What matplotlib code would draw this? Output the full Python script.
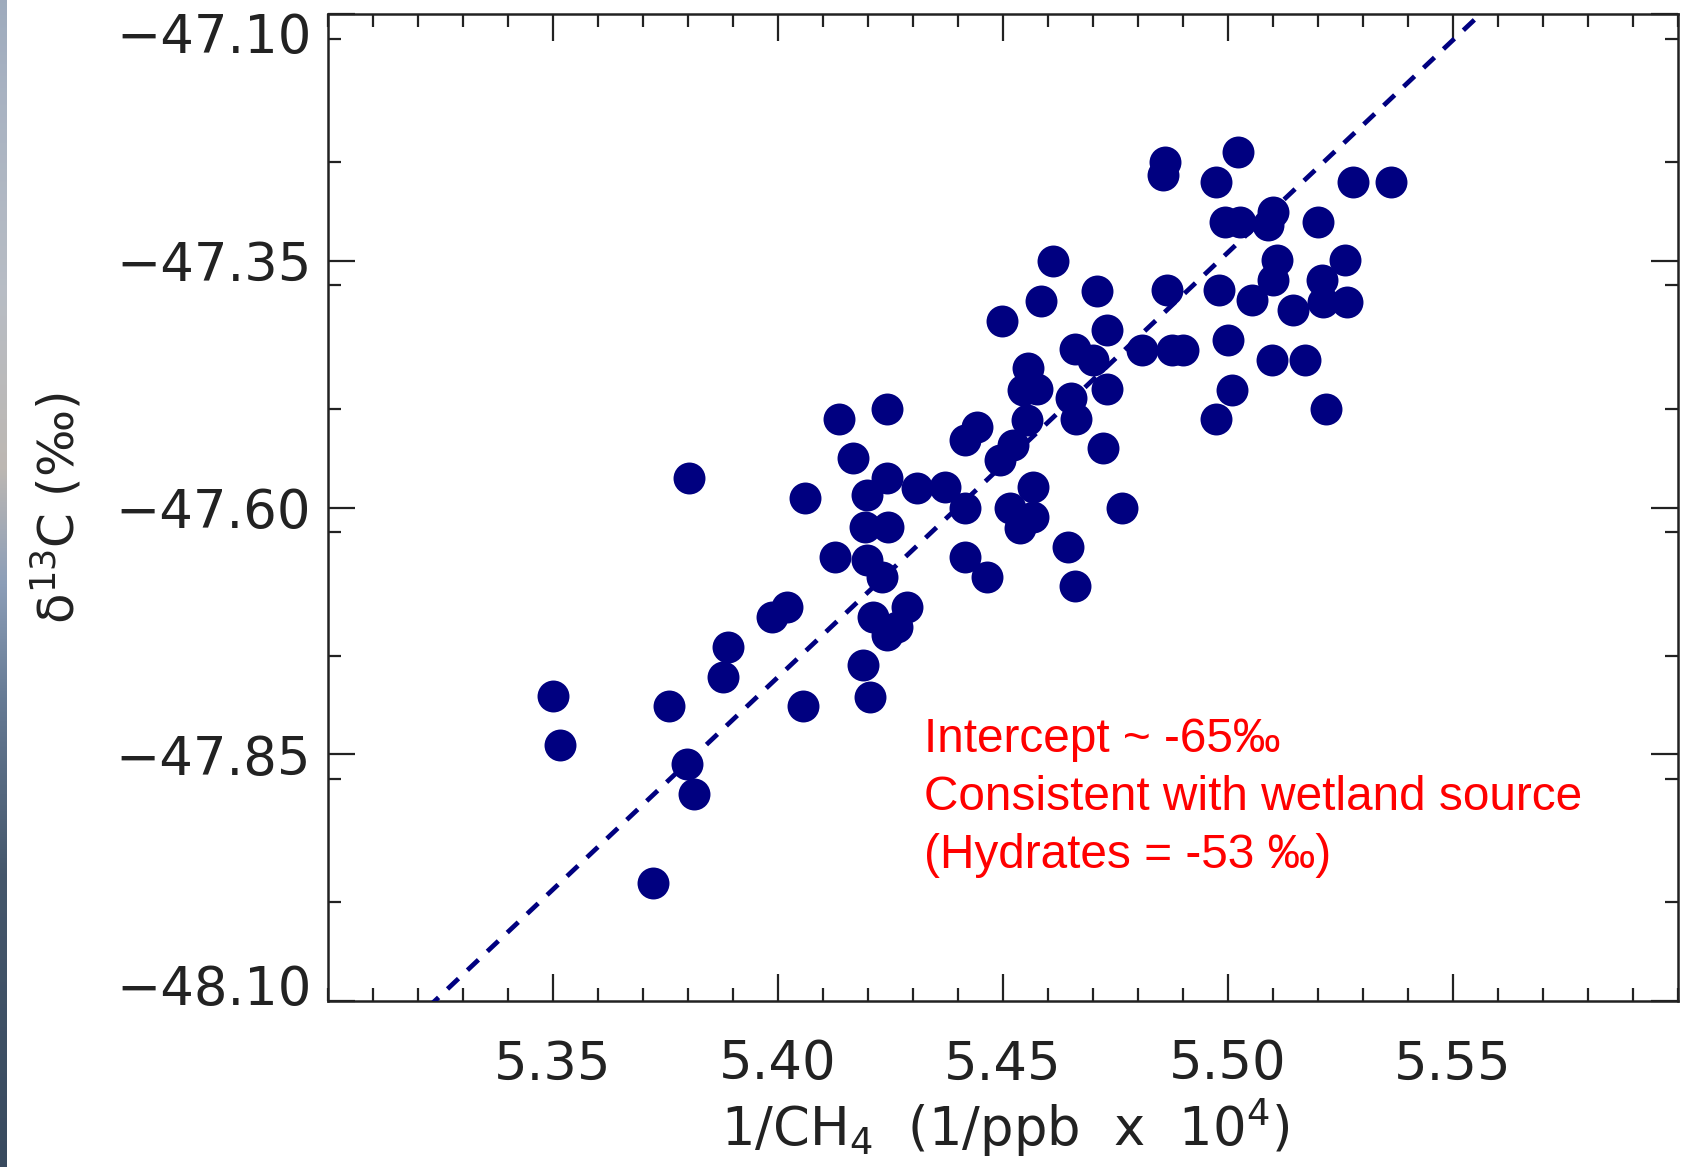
import numpy as np
import matplotlib
matplotlib.use("Agg")
import matplotlib.pyplot as plt
from matplotlib.ticker import MultipleLocator
from matplotlib.transforms import ScaledTranslation

# ---------------- data ----------------
inv_ch4 = [
    5.3500, 5.3516, 5.3722, 5.3758, 5.3798, 5.3813, 5.3802, 5.3878, 5.3889, 5.3987,
    5.4020, 5.4056, 5.4060, 5.4127, 5.4136, 5.4167, 5.4242, 5.4198, 5.4242, 5.4193,
    5.4244, 5.4198, 5.4231, 5.4309, 5.4371, 5.4416, 5.4211, 5.4287, 5.4242, 5.4264,
    5.4189, 5.4204, 5.4416, 5.4464, 5.4442, 5.4416, 5.4553, 5.4522, 5.4493, 5.4567,
    5.4516, 5.4567, 5.4538, 5.4644, 5.4660, 5.4651, 5.4662, 5.4722, 5.4764, 5.4611,
    5.4709, 5.4584, 5.4498, 5.4731, 5.4660, 5.4700, 5.4556, 5.4544, 5.4576, 5.4731,
    5.4860, 5.4856, 5.5022, 5.4973, 5.5278, 5.5362, 5.4993, 5.5027, 5.5100, 5.5089,
    5.5200, 5.5109, 5.5100, 5.5260, 5.5209, 5.5264, 5.5211, 5.5144, 5.5053, 5.4980,
    5.4864, 5.5000, 5.4809, 5.4876, 5.4900, 5.5098, 5.5171, 5.5009, 5.4973, 5.5218,
]
d13c = [
    -47.791, -47.841, -47.980, -47.801, -47.860, -47.890, -47.570, -47.772, -47.741, -47.711,
    -47.701, -47.801, -47.590, -47.650, -47.510, -47.550, -47.500, -47.587, -47.570, -47.620,
    -47.620, -47.653, -47.670, -47.580, -47.579, -47.600, -47.711, -47.701, -47.729, -47.721,
    -47.760, -47.792, -47.650, -47.670, -47.518, -47.532, -47.511, -47.537, -47.552, -47.579,
    -47.600, -47.610, -47.621, -47.640, -47.680, -47.489, -47.510, -47.540, -47.600, -47.350,
    -47.381, -47.391, -47.411, -47.420, -47.439, -47.451, -47.459, -47.481, -47.480, -47.480,
    -47.250, -47.263, -47.240, -47.270, -47.270, -47.270, -47.311, -47.311, -47.301, -47.314,
    -47.311, -47.349, -47.370, -47.349, -47.370, -47.392, -47.392, -47.400, -47.390, -47.380,
    -47.380, -47.430, -47.440, -47.440, -47.440, -47.451, -47.451, -47.481, -47.510, -47.500,
]
fit_slope = 4.303          # regression line
fit_intercept = -71.008

x_ticks = [5.35, 5.40, 5.45, 5.50, 5.55]
y_ticks = [-47.10, -47.35, -47.60, -47.85, -48.10]
x_range = [5.30, 5.60]
y_range = [-48.10, -47.10]

annotation_lines = [
    "Intercept ~ -65\u2030",
    "Consistent with wetland source",
    "(Hydrates = -53 \u2030)",
]

# ---------------- figure ----------------
W, H = 1685, 1167
plt.rcParams["font.family"] = ["DejaVu Sans"]
plt.rcParams["mathtext.default"] = "regular"
fig = plt.figure(figsize=(W / 100, H / 100), dpi=100)
fig.patch.set_facecolor("white")

# thin strip of background photo at the far left edge
strip = fig.add_axes([0, 0, 7 / W, 1])
stops = np.array([0.0, 0.08, 0.25, 0.40, 0.50, 0.60, 0.75, 1.0])
cols = np.array([
    [0.62, 0.67, 0.74],
    [0.66, 0.70, 0.76],
    [0.72, 0.74, 0.77],
    [0.74, 0.72, 0.70],
    [0.55, 0.62, 0.72],
    [0.40, 0.48, 0.58],
    [0.27, 0.34, 0.42],
    [0.22, 0.29, 0.37],
])
t = np.linspace(0, 1, 400)
grad = np.stack([np.interp(t, stops, cols[:, k]) for k in range(3)], axis=-1)[:, None, :]
strip.imshow(grad, aspect="auto", extent=[0, 1, 1, 0])
strip.set_axis_off()

ax = fig.add_axes([328 / W, 1 - 1001 / H, (1678 - 328) / W, (1001 - 14) / H])
navy = "#000080"
ink = "#222222"

ax.plot(inv_ch4, d13c, "o", ms=23, color=navy, mec="none", zorder=2)
ax.set_xlim(*x_range)
ax.set_ylim(*y_range)
xx = np.array(x_range)
ax.plot(xx, fit_slope * xx + fit_intercept, color=navy, lw=3.4,
        ls=(0, (3.2, 2.6)), zorder=3)

ax.set_xticks(x_ticks)
ax.set_xticklabels([f"{v:.2f}" for v in x_ticks])
ax.set_yticks(y_ticks)
ax.set_yticklabels([f"{v:.2f}".replace("-", "\u2212") for v in y_ticks])
ax.xaxis.set_minor_locator(MultipleLocator(0.01))
ax.yaxis.set_minor_locator(MultipleLocator(0.125))
ax.tick_params(which="both", direction="in", top=True, right=True,
               width=1.6, color=ink, labelcolor=ink, labelsize=38)
ax.tick_params(which="major", length=19.5)
ax.tick_params(which="minor", length=9.5)
ax.tick_params(axis="y", pad=12)
ax.tick_params(axis="x", pad=27)
for sp in ax.spines.values():
    sp.set_linewidth(1.8)
    sp.set_color(ink)

# edge labels of the y axis are pulled inward, as in the reference
fig.canvas.draw()
for tick in ax.yaxis.get_major_ticks():
    loc = tick.get_loc()
    if np.isclose(loc, y_range[1]):
        tick.label1.set_transform(tick.label1.get_transform()
                                  + ScaledTranslation(0, -0.185, fig.dpi_scale_trans))
    elif np.isclose(loc, y_range[0]):
        tick.label1.set_transform(tick.label1.get_transform()
                                  + ScaledTranslation(0, 0.17, fig.dpi_scale_trans))

fig.text(57 / W, 1 - 508 / H, r"$\delta^{13}$C (‰)", rotation=90,
         ha="center", va="center", fontsize=36, color=ink)
fig.text(1005 / W, 1 - 1128 / H, r"1/CH$_4$  (1/ppb  x  10$^4$)",
         ha="center", va="center", fontsize=38, color=ink)

for i, line in enumerate(annotation_lines):
    fig.text(924 / W, 1 - (752 + 58 * i) / H, line, ha="left", va="baseline",
             fontsize=34.4, color="#ff0000", family=["Liberation Sans", "DejaVu Sans"])

fig.savefig("out.png", dpi=100)
